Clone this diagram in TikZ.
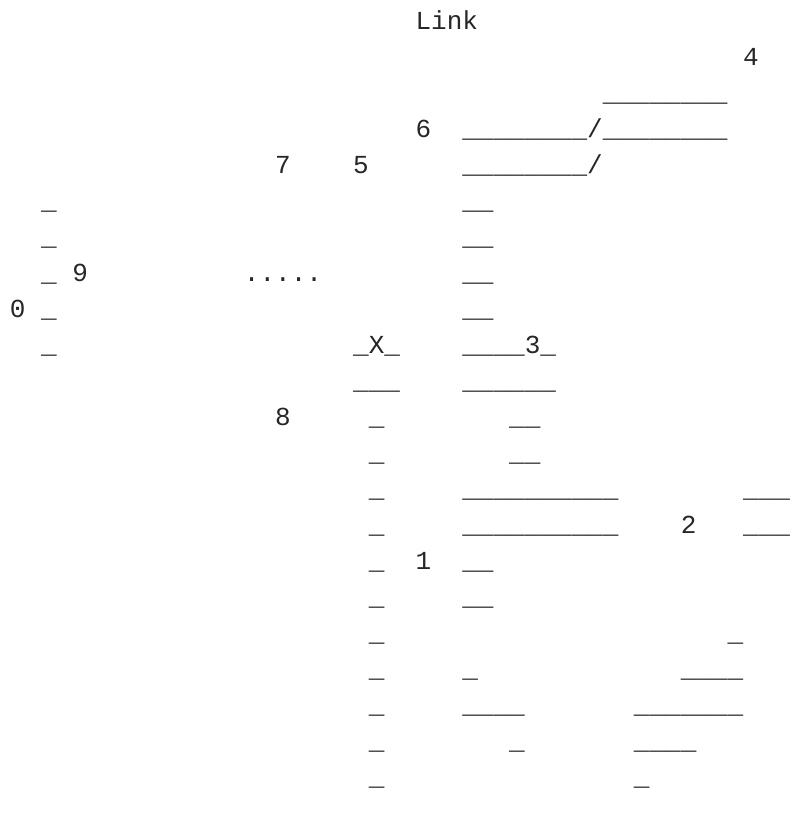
\documentclass[tikz,border=0pt]{standalone}
\usepackage{fontspec}
\newfontfamily\asciifont{Liberation Mono}

\begin{document}
\begin{tikzpicture}[
  x=11.7pt,y=-27pt,
  glyph/.style={font=\asciifont\fontsize{19.5pt}{19.5pt}\selectfont,inner sep=0pt,anchor=base west,text=black!85}
]
\useasboundingbox (-0.622,-0.806) rectangle (50.853,22.111);
% labels
\node[glyph] (link) at (26,0) {Link};
\node[glyph] (n4) at (47,1) {4};
\node[glyph] (n6) at (26,3) {6};
\node[glyph] (n7) at (17,4) {7};
\node[glyph] (n5) at (22,4) {5};
\node[glyph] (n9) at (4,7) {9};
\node[glyph] (dots) at (15,7) {.....};
\node[glyph] (n0) at (0,8) {0};
\node[glyph] (xmark) at (22,9) {\_X\_};
\node[glyph] (n3) at (29,9) {\_\_\_\_3\_};
\node[glyph] (n8) at (17,11) {8};
\node[glyph] (n2) at (43,14) {2};
\node[glyph] (n1) at (26,15) {1};
% left and middle columns
\foreach \r in {5,...,9} \node[glyph] (left\r) at (2,\r) {\_};
\foreach \r in {11,...,21} \node[glyph] (mid\r) at (23,\r) {\_};
% strokes
\foreach \c/\r/\s [count=\i] in {
  38/2/{\_\_\_\_\_\_\_\_},
  29/3/{\_\_\_\_\_\_\_\_/\_\_\_\_\_\_\_\_},
  29/4/{\_\_\_\_\_\_\_\_/},
  29/5/{\_\_}, 29/6/{\_\_}, 29/7/{\_\_}, 29/8/{\_\_},
  22/10/{\_\_\_}, 29/10/{\_\_\_\_\_\_},
  32/11/{\_\_}, 32/12/{\_\_},
  29/13/{\_\_\_\_\_\_\_\_\_\_}, 47/13/{\_\_\_},
  29/14/{\_\_\_\_\_\_\_\_\_\_}, 47/14/{\_\_\_},
  29/15/{\_\_}, 29/16/{\_\_},
  46/17/{\_},
  29/18/{\_}, 43/18/{\_\_\_\_},
  29/19/{\_\_\_\_}, 40/19/{\_\_\_\_\_\_\_},
  32/20/{\_}, 40/20/{\_\_\_\_},
  40/21/{\_}}
  \node[glyph] (u\i) at (\c,\r) {\s};
\end{tikzpicture}
\end{document}
